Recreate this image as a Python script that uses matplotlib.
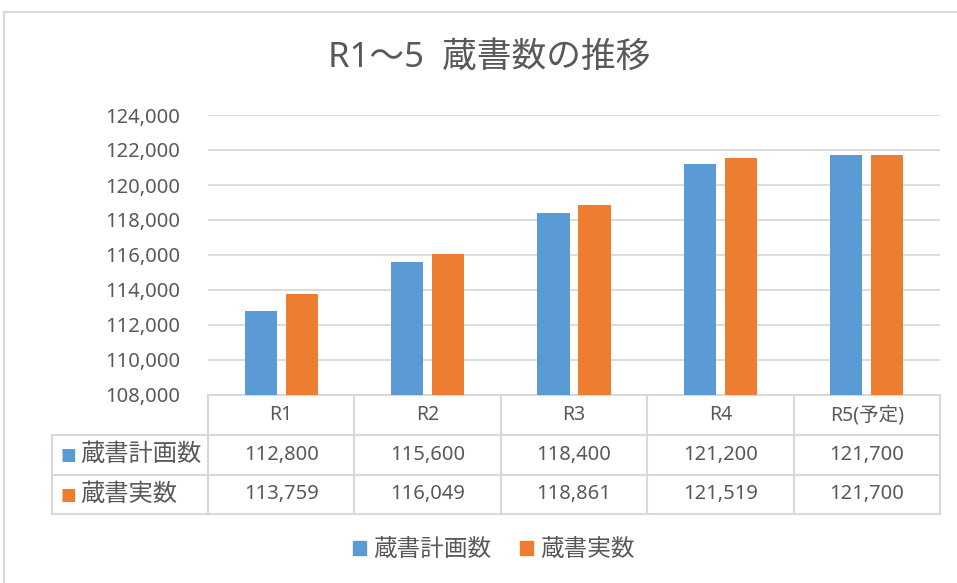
import matplotlib
matplotlib.use("Agg")
import matplotlib.pyplot as plt
from matplotlib.patches import Rectangle, Patch
import numpy as np

plt.rcParams['font.family'] = ['Noto Sans', 'Noto Sans CJK JP', 'DejaVu Sans']

title = "R1〜5  蔵書数の推移"
categories = ["R1", "R2", "R3", "R4", "R5(予定)"]
series_names = ["蔵書計画数", "蔵書実数"]
planned = [112800, 115600, 118400, 121200, 121700]
actual = [113759, 116049, 118861, 121519, 121700]
colors = ["#5b9bd5", "#ed7d31"]

txt = "#595959"
grid = "#d9d9d9"

W, H = 957, 583
fig = plt.figure(figsize=(W / 100, H / 100), dpi=100)
# chart outer border
fig.patches.append(Rectangle((4 / W, -0.1), 1.2, 1 - 12 / H + 0.1, transform=fig.transFigure,
                             fill=False, edgecolor="#d9d9d9", linewidth=1.5))

x0, x1, ytop, ybot = 208, 940, 115, 395
ax = fig.add_axes([x0 / W, 1 - ybot / H, (x1 - x0) / W, (ybot - ytop) / H])

x = np.arange(len(categories))
bw = 0.22
gap = 0.06
ax.bar(x - (bw + gap) / 2, planned, bw, color=colors[0], zorder=3)
ax.bar(x + (bw + gap) / 2, actual, bw, color=colors[1], zorder=3)

ax.set_xlim(-0.5, len(categories) - 0.5)
ax.set_ylim(108000, 124000)
ax.set_yticks(np.arange(108000, 124001, 2000))
ax.set_yticklabels([f"{v:,}" for v in range(108000, 124001, 2000)])
ax.yaxis.grid(True, color=grid, linewidth=1.3, zorder=0)
ax.set_xticks([])
for s in ["top", "right", "left"]:
    ax.spines[s].set_visible(False)
ax.spines["bottom"].set_color(grid)
ax.spines["bottom"].set_linewidth(1.5)
ax.tick_params(axis="y", length=0, labelsize=14.5, labelcolor=txt, pad=20)

fig.text(489 / W, 1 - 58 / H, title, fontsize=25, color=txt, ha="center", va="center")

# data table under the plot
ph = ybot - ytop
pw = x1 - x0
def ay(py):
    return (ybot - py) / ph
def axx(px):
    return (px - x0) / pw

row_y = [395, 435, 475, 514]
left = 52
lk = dict(transform=ax.transAxes, color=grid, linewidth=1.5, clip_on=False)
for i in range(len(categories) + 1):
    ax.plot([i / len(categories)] * 2, [ay(row_y[0]), ay(row_y[-1])], **lk)
ax.plot([axx(left)] * 2, [ay(row_y[1]), ay(row_y[-1])], **lk)
for py in row_y[1:]:
    ax.plot([axx(left), 1], [ay(py)] * 2, **lk)

for i, c in enumerate(categories):
    cx = (i + 0.5) / len(categories)
    ax.text(cx, ay((row_y[0] + row_y[1]) / 2), c, transform=ax.transAxes,
            ha="center", va="center", fontsize=14, color=txt)
    for r, vals in enumerate([planned, actual]):
        ax.text(cx, ay((row_y[r + 1] + row_y[r + 2]) / 2), f"{vals[i]:,}", transform=ax.transAxes,
                ha="center", va="center", fontsize=14.5, color=txt)

for r, name in enumerate(series_names):
    yc = ay((row_y[r + 1] + row_y[r + 2]) / 2)
    ax.text(axx(left + 8), yc, "■", transform=ax.transAxes, ha="left", va="center",
            fontsize=12, color=colors[r], family="DejaVu Sans")
    ax.text(axx(left + 28), yc, name, transform=ax.transAxes, ha="left", va="center",
            fontsize=17.5, color=txt)

handles = [Patch(color=colors[i], label=series_names[i]) for i in range(2)]
fig.legend(handles=handles, loc="center", bbox_to_anchor=(494 / W, 1 - 550 / H), ncol=2,
           frameon=False, fontsize=17, labelcolor=txt, handlelength=0.55, handleheight=0.55,
           handletextpad=0.3, columnspacing=1.2)

fig.savefig("out.png", dpi=100)
